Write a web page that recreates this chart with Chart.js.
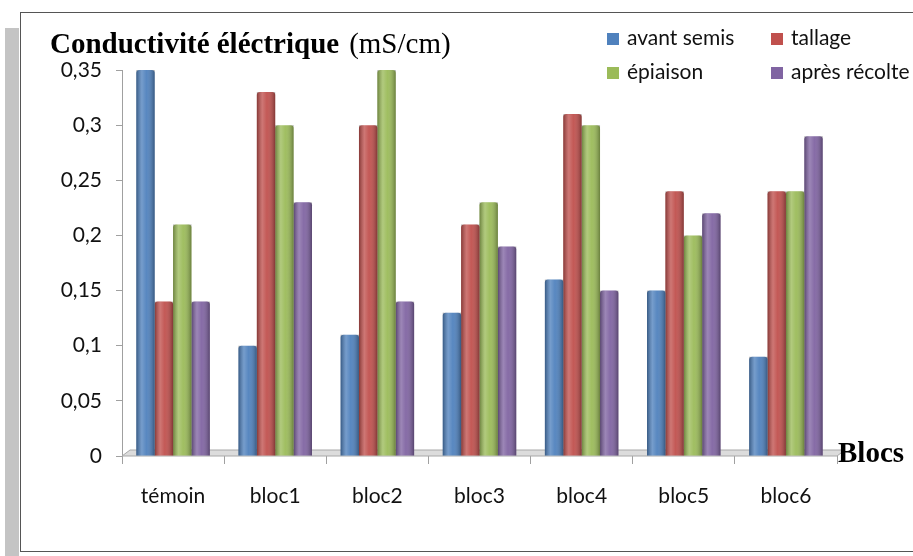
<!DOCTYPE html>
<html>
<head>
<meta charset="utf-8">
<script src="https://cdn.jsdelivr.net/npm/chart.js"></script>
<style>
  html, body { margin: 0; padding: 0; background: #fff; }
  #wrap { position: relative; width: 913px; height: 556px; overflow: hidden; }
  #strip { position: absolute; left: 5px; top: 28px; width: 14px; height: 528px; background: #c4c4c4; }
  #frame { position: absolute; left: 20px; top: 12px; width: 900px; height: 538px; border: 1px solid #555; }
  #chart { position: absolute; left: 0; top: 0; }
  .title { position: absolute; left: 50px; top: 25px; font-family: "Liberation Serif", "DejaVu Serif", serif; font-size: 29px; line-height: 36px; color: #000; white-space: nowrap; }
  .title b { font-weight: bold; }
  .title span { margin-left: 10px; }
  .legend { position: absolute; font-family: Lato, "Open Sans", sans-serif; font-size: 21px; line-height: 24px; color: #111; white-space: nowrap; }
  .legend i { display: inline-block; width: 12px; height: 12px; margin-right: 8px; vertical-align: 0px; }
  .axis-name { position: absolute; left: 838px; top: 435px; font-family: "Liberation Serif", serif; font-weight: bold; font-size: 29px; line-height: 34px; color: #000; }
</style>
</head>
<body>
<div id="wrap">
  <div id="strip"></div>
  <div id="frame"></div>
  <canvas id="chart" width="913" height="556"></canvas>
  <div class="title"><b>Conductivité éléctrique</b><span>(mS/cm)</span></div>
  <div id="legend"></div>
  <div class="axis-name">Blocs</div>
</div>
<script>
const categories = ['témoin', 'bloc1', 'bloc2', 'bloc3', 'bloc4', 'bloc5', 'bloc6'];
const seriesNames = ['avant semis', 'tallage', 'épiaison', 'après récolte'];
const avantSemis = [0.35, 0.10, 0.11, 0.13, 0.16, 0.15, 0.09];
const tallage = [0.14, 0.33, 0.30, 0.21, 0.31, 0.24, 0.24];
const epiaison = [0.21, 0.30, 0.35, 0.23, 0.30, 0.20, 0.24];
const apresRecolte = [0.14, 0.23, 0.14, 0.19, 0.15, 0.22, 0.29];
const yTicks = [0, 0.05, 0.1, 0.15, 0.2, 0.25, 0.3, 0.35];
const colors = ['#4F81BD', '#C0504D', '#9BBB59', '#8064A2'];

// legend, 2 columns
const legendPos = [[607, 25], [771, 25], [607, 59], [771, 59]];
const legendEl = document.getElementById('legend');
seriesNames.forEach((name, i) => {
  const d = document.createElement('div');
  d.className = 'legend';
  d.style.left = legendPos[i][0] + 'px';
  d.style.top = legendPos[i][1] + 'px';
  d.innerHTML = `<i style="background:${colors[i]}"></i>${name}`;
  legendEl.appendChild(d);
});

// 3D floor under the bars
const floorPlugin = {
  id: 'floor',
  beforeDatasetsDraw(chart) {
    const { ctx, chartArea } = chart;
    const y0 = chart.scales.y.getPixelForValue(0);
    ctx.save();
    ctx.beginPath();
    ctx.moveTo(chartArea.left, y0);
    ctx.lineTo(chartArea.left + 8, y0 - 6);
    ctx.lineTo(chartArea.right + 8, y0 - 6);
    ctx.lineTo(chartArea.right, y0);
    ctx.closePath();
    ctx.fillStyle = '#dcdcdc';
    ctx.fill();
    ctx.strokeStyle = '#a8a8a8';
    ctx.lineWidth = 1;
    ctx.stroke();
    ctx.restore();
  }
};

// cylinder shading over each bar
const shadePlugin = {
  id: 'shade',
  afterDatasetsDraw(chart) {
    const { ctx } = chart;
    chart.data.datasets.forEach((ds, di) => {
      chart.getDatasetMeta(di).data.forEach(el => {
        const p = el.getProps(['x', 'y', 'base', 'width'], true);
        const left = p.x - p.width / 2;
        const g = ctx.createLinearGradient(left, 0, left + p.width, 0);
        g.addColorStop(0, 'rgba(0,0,0,0.30)');
        g.addColorStop(0.3, 'rgba(255,255,255,0.22)');
        g.addColorStop(0.55, 'rgba(255,255,255,0.05)');
        g.addColorStop(1, 'rgba(0,0,0,0.32)');
        ctx.save();
        ctx.fillStyle = g;
        ctx.fillRect(left, p.y, p.width, p.base - p.y);
        ctx.restore();
      });
    });
  }
};

new Chart(document.getElementById('chart'), {
  type: 'bar',
  data: {
    labels: categories,
    datasets: [avantSemis, tallage, epiaison, apresRecolte].map((vals, i) => ({
      label: seriesNames[i],
      data: vals,
      backgroundColor: colors[i],
      borderWidth: 0,
      borderRadius: { topLeft: 3, topRight: 3 },
      borderSkipped: 'bottom',
      categoryPercentage: 0.72,
      barPercentage: 1.0
    }))
  },
  options: {
    responsive: false,
    animation: false,
    devicePixelRatio: 1,
    layout: { padding: { top: 70, right: 76, bottom: 40, left: 0 } },
    plugins: { legend: { display: false }, tooltip: { enabled: false } },
    scales: {
      x: {
        grid: { display: true, drawOnChartArea: false, offset: true, tickLength: 8, color: '#a0a0a0' },
        border: { display: false },
        ticks: { color: '#111', padding: 20, font: { family: 'Lato, "Open Sans", sans-serif', size: 21 } },
        afterFit(scale) { scale.height = 60; }
      },
      y: {
        min: 0,
        max: 0.35,
        afterBuildTicks(scale) { scale.ticks = yTicks.map(v => ({ value: v })); },
        grid: { display: true, drawOnChartArea: false, tickLength: 6, color: '#a0a0a0' },
        border: { display: true, color: '#a0a0a0' },
        ticks: {
          color: '#111',
          padding: 14,
          font: { family: 'Lato, "Open Sans", sans-serif', size: 21 },
          callback: v => String(v).replace('.', ',')
        },
        afterFit(scale) { scale.width = 122; }
      }
    }
  },
  plugins: [floorPlugin, shadePlugin]
});
</script>
</body>
</html>
